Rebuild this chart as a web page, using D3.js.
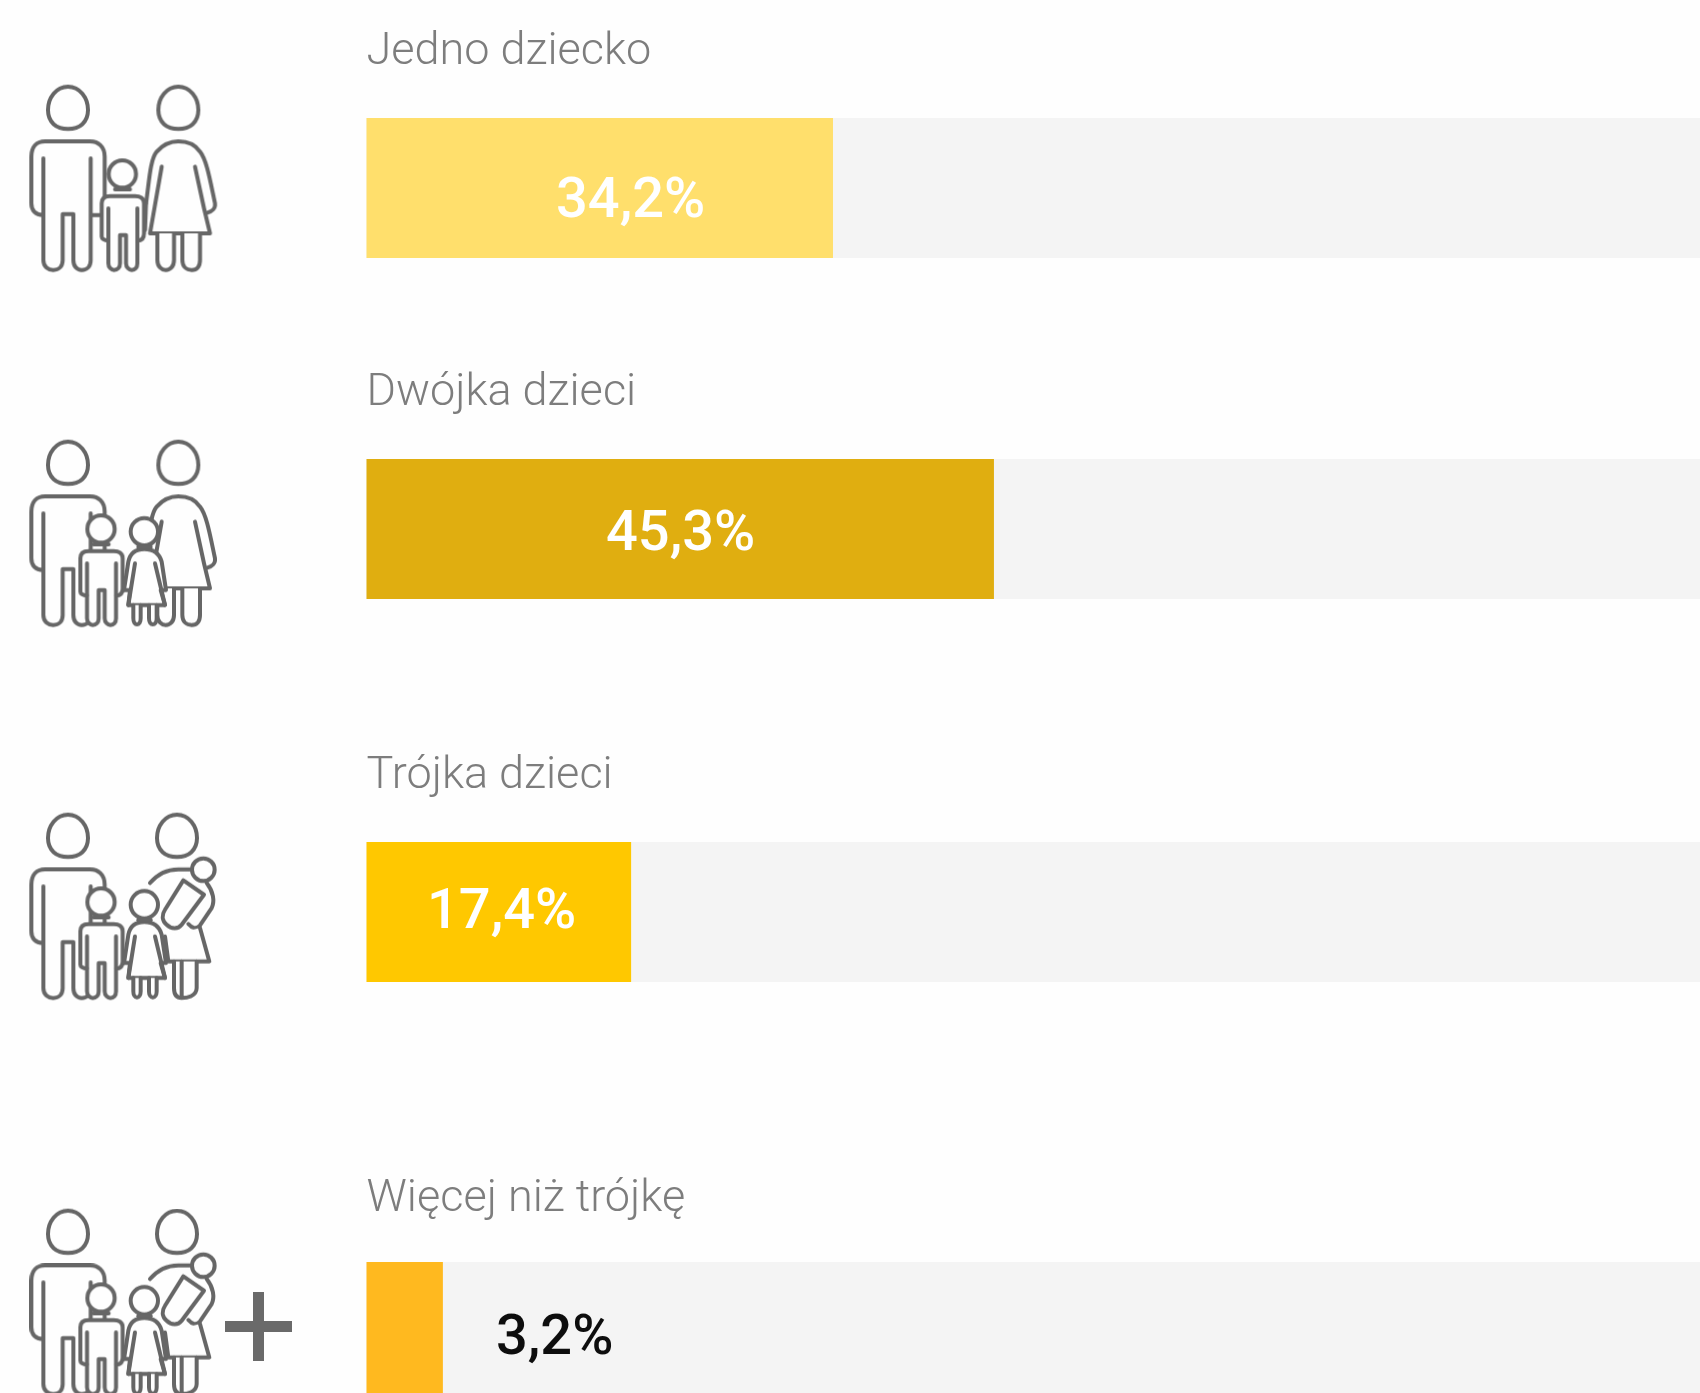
<!DOCTYPE html>
<html>
<head>
<meta charset="utf-8">
<script src="https://cdn.jsdelivr.net/npm/d3@7"></script>
<style>
  body { margin: 0; background: #fff; }
  svg { display: block; }
  text { font-family: Roboto, sans-serif; }
</style>
</head>
<body>
<div id="chart"></div>
<script>
const categories = ['Jedno dziecko', 'Dwójka dzieci', 'Trójka dzieci', 'Więcej niż trójkę']
const valueLabels = ['34,2%', '45,3%', '17,4%', '3,2%']
// bar lengths as drawn in the picture, they do not quite follow the printed labels
const barLengths = [34.2, 46.0, 19.4, 5.6]
const barColors = ['#ffdf6c', '#e0ae10', '#ffc800', '#ffb91f']
const labelColors = ['#fff', '#fff', '#fff', '#111']

const width = 1700
const height = 1393

const x = d3.scaleLinear().domain([0, 100]).range([366.5, 1730.5])
const rowY = d3.scaleOrdinal().domain(categories).range([118, 459, 842, 1262])
const nameY = d3.scaleOrdinal().domain(categories).range([64, 405, 788, 1211])
const valueX = d3.scaleOrdinal().domain(categories).range([556, 606, 427, 496])
const valueY = d3.scaleOrdinal().domain(categories).range([217, 550, 928, 1354])
const iconY = d3.scaleOrdinal().domain(categories).range([60, 415, 788, 1184])
const barHeight = 140

const svg = d3.select('#chart').append('svg')
  .attr('width', width)
  .attr('height', height)

svg.append('rect')
  .attr('width', width)
  .attr('height', height)
  .attr('fill', '#fefefe')

const defs = svg.append('defs')
defs.append('filter')
  .attr('id', 'soft')
  .append('feGaussianBlur')
  .attr('stdDeviation', 0.7)

// rows
const rows = svg.selectAll('.row')
  .data(categories)
  .enter().append('g')
  .attr('class', 'row')

rows.append('rect')
  .attr('x', x(0))
  .attr('y', d => rowY(d))
  .attr('width', x(100) - x(0))
  .attr('height', barHeight)
  .attr('fill', '#f4f4f4')

rows.append('rect')
  .attr('x', x(0))
  .attr('y', d => rowY(d))
  .attr('width', (d, i) => x(barLengths[i]) - x(0))
  .attr('height', barHeight)
  .attr('fill', (d, i) => barColors[i])

rows.append('text')
  .attr('x', x(0))
  .attr('y', d => nameY(d))
  .attr('font-size', 45)
  .attr('font-weight', 300)
  .attr('fill', '#7d7d7d')
  .attr('filter', 'url(#soft)')
  .text(d => d)

rows.append('text')
  .attr('x', d => valueX(d))
  .attr('y', d => valueY(d))
  .attr('font-size', 56)
  .attr('font-weight', 500)
  .attr('fill', (d, i) => labelColors[i])
  .attr('filter', 'url(#soft)')
  .text((d, i) => valueLabels[i])

// icons, drawn in a 300 unit wide box at 3x
const head = 'M0 -65C-35 -65 -60 -32 -60 5C-60 42 -35 62 0 62C35 62 60 42 60 5C60 -32 35 -65 0 -65Z'

function person (g, cx, cy) {
  g.append('path')
    .attr('d', head)
    .attr('transform', `translate(${cx},${cy})`)
}

function man (g) {
  person(g, 204, 145)
  g.append('path').attr('d', 'M130 465C105 465 94 450 94 430L94 290C94 260 110 244 135 244L270 244C295 244 314 260 314 290L314 465L272 465')
  g.append('path').attr('d', 'M130 295L130 600C130 620 145 630 160 630C175 630 188 620 188 600L188 462L220 462L220 600C220 620 232 630 245 630C260 630 272 620 272 600L272 295')
}

function woman (g) {
  person(g, 535, 145)
  g.append('path').attr('d', 'M438 430C448 360 450 300 470 275C490 252 510 244 535 244C560 244 585 252 600 275C620 300 630 360 645 430C647 445 635 455 622 458')
  g.append('path').attr('d', 'M485 320L450 520L630 520L612 445M585 320L612 445')
  g.append('path').attr('d', 'M472 520L472 600C472 620 485 630 497 630C510 630 522 620 522 600L522 520M547 520L547 600C547 620 560 630 575 630C590 630 600 620 600 600L600 520')
  g.append('path').attr('d', 'M438 430L435 510')
}

function womanWithBaby (g) {
  person(g, 531, 145)
  g.append('path').attr('d', 'M450 285C475 255 505 244 535 244L585 244')
  g.append('path').attr('d', 'M620 285C640 310 645 340 635 360L600 412C590 425 575 420 565 408')
  g.append('path').attr('d', 'M600 420L628 520L505 520L495 445')
  g.append('path').attr('d', 'M522 520L522 600C522 620 530 630 545 630C560 630 590 625 590 600L590 520M545 520L545 630')
  g.append('path').attr('d', 'M550 277L612 320L545 410C535 423 515 425 500 410C485 397 485 380 495 365Z')
  g.append('circle').attr('cx', 610).attr('cy', 245).attr('r', 34)
}

function boy (g, dx) {
  const b = g.append('g').attr('transform', `translate(${dx},0)`)
  b.append('path').attr('d', 'M305 530L305 430C305 415 315 408 330 408L405 408C420 408 432 415 432 430L432 520C432 535 425 542 412 542L412 610C412 623 405 630 395 630C388 630 378 623 378 610L378 525L360 525L360 610C360 623 352 630 342 630C335 630 325 623 325 610L325 542C312 542 305 535 305 530Z')
  b.append('path').attr('d', 'M325 445L325 540M412 445L412 540')
  b.append('circle').attr('cx', 367).attr('cy', 342).attr('r', 41)
  b.append('path').attr('d', 'M345 388L390 388')
}

function girl (g) {
  g.append('path').attr('d', 'M372 525L385 440C390 415 405 402 433 402C460 402 478 415 485 440L498 525L482 525L495 570L385 570L390 525Z')
  g.append('path').attr('d', 'M405 445L385 570M465 445L495 570')
  g.append('path').attr('d', 'M400 570L400 610C400 634 422 634 422 610L422 570M447 570L447 610C447 634 470 634 470 610L470 570')
  g.append('circle').attr('cx', 433).attr('cy', 350).attr('r', 41)
  g.append('path').attr('d', 'M415 396L452 396')
}

const iconDrawers = [
  g => { man(g); woman(g); boy(g, 0) },
  g => { man(g); woman(g); boy(g, -64); girl(g) },
  g => { man(g); womanWithBaby(g); boy(g, -64); girl(g) },
  g => { man(g); womanWithBaby(g); boy(g, -64); girl(g) }
]

const icons = svg.selectAll('.icon')
  .data(categories)
  .enter().append('g')
  .attr('class', 'icon')
  .attr('transform', d => `translate(0,${iconY(d)}) scale(${1 / 3})`)
  .attr('fill', '#fefefe')
  .attr('stroke', '#666')
  .attr('stroke-width', 12)
  .attr('stroke-linejoin', 'round')
  .attr('stroke-linecap', 'round')
  .attr('filter', 'url(#soft)')
  .each(function (d, i) {
    iconDrawers[i](d3.select(this))
  })

// plus sign on the last row
const plus = svg.append('g')
  .attr('fill', '#6b6b6b')
  .attr('filter', 'url(#soft)')

plus.append('rect').attr('x', 225).attr('y', 1321).attr('width', 67).attr('height', 11)
plus.append('rect').attr('x', 253).attr('y', 1292).attr('width', 11).attr('height', 69)
</script>
</body>
</html>
